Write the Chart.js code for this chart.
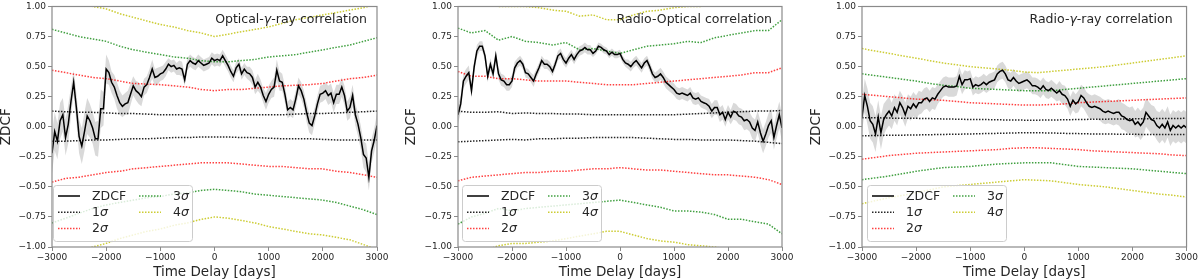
<!DOCTYPE html>
<html>
<head>
<meta charset="utf-8">
<script src="https://cdn.jsdelivr.net/npm/chart.js@4.4.0/dist/chart.umd.min.js"></script>
<style>
  html, body { margin: 0; padding: 0; background: #fff; }
  #wrap { position: relative; width: 1200px; height: 280px; }
  canvas { position: absolute; top: 0; }
</style>
</head>
<body>
<div id="wrap">
  <canvas id="c1" width="400" height="280" style="left:0px"></canvas>
  <canvas id="c2" width="400" height="280" style="left:400px"></canvas>
  <canvas id="c3" width="400" height="280" style="left:800px"></canvas>
</div>
<script>
// time delays (days) of the ZDCF bins
const lags = [
  -3000,-2950,-2900,-2850,-2800,-2750,-2700,-2650,-2600,-2550,
  -2500,-2450,-2400,-2350,-2300,-2250,-2200,-2150,-2100,-2050,
  -2000,-1950,-1900,-1850,-1800,-1750,-1700,-1650,-1600,-1550,
  -1500,-1450,-1400,-1350,-1300,-1250,-1200,-1150,-1100,-1050,
  -1000,-950,-900,-850,-800,-750,-700,-650,-600,-550,
  -500,-450,-400,-350,-300,-250,-200,-150,-100,-50,
  0,50,100,150,200,250,300,350,400,450,
  500,550,600,650,700,750,800,850,900,950,
  1000,1050,1100,1150,1200,1250,1300,1350,1400,1450,
  1500,1550,1600,1650,1700,1750,1800,1850,1900,1950,
  2000,2050,2100,2150,2200,2250,2300,2350,2400,2450,
  2500,2550,2600,2650,2700,2750,2800,2850,2900,2950,
  3000
];
// time delays of the significance curves
const sigmaLags = [-3000,-2750,-2500,-2250,-2000,-1750,-1500,-1250,-1000,-750,-500,-250,
  0,250,500,750,1000,1250,1500,1750,2000,2250,2500,2750,3000];

const xTicks = [-3000,-2000,-1000,0,1000,2000,3000];
const yTicks = [-1,-0.75,-0.5,-0.25,0,0.25,0.5,0.75,1];

// ---- Optical - gamma-ray ----
const ogZdcf = [
  -0.22,-0.04,-0.12,0.05,0.10,-0.09,0.02,0.21,0.37,0.16,
  -0.08,-0.16,-0.04,0.09,0.05,-0.01,-0.10,-0.10,0.15,0.15,
  0.48,0.45,0.37,0.33,0.26,0.20,0.17,0.19,0.20,0.27,
  0.34,0.30,0.28,0.25,0.33,0.35,0.41,0.48,0.41,0.42,
  0.44,0.45,0.48,0.52,0.50,0.51,0.48,0.49,0.48,0.39,
  0.52,0.55,0.53,0.52,0.55,0.53,0.51,0.52,0.53,0.57,
  0.55,0.56,0.55,0.59,0.55,0.51,0.46,0.42,0.49,0.52,
  0.44,0.48,0.45,0.44,0.41,0.33,0.37,0.33,0.26,0.21,
  0.27,0.31,0.33,0.47,0.38,0.37,0.27,0.14,0.16,0.14,
  0.23,0.34,0.30,0.23,0.12,0.03,0.01,0.09,0.19,0.27,
  0.28,0.30,0.26,0.28,0.20,0.27,0.27,0.33,0.26,0.13,
  0.16,0.26,0.10,0.02,-0.09,-0.23,-0.26,-0.42,-0.20,-0.11,
  0.01
];
const ogErr = [
  0.17,0.16,0.15,0.15,0.14,0.15,0.16,0.12,0.10,0.12,
  0.14,0.15,0.16,0.15,0.14,0.13,0.14,0.15,0.16,0.14,
  0.12,0.10,0.09,0.10,0.11,0.10,0.09,0.09,0.10,0.09,
  0.08,0.08,0.09,0.08,0.07,0.07,0.07,0.08,0.07,0.07,
  0.06,0.06,0.06,0.05,0.05,0.05,0.05,0.06,0.06,0.05,
  0.05,0.05,0.05,0.05,0.05,0.05,0.05,0.05,0.05,0.05,
  0.05,0.05,0.05,0.05,0.05,0.05,0.05,0.05,0.05,0.05,
  0.05,0.05,0.05,0.06,0.06,0.06,0.07,0.06,0.06,0.07,
  0.07,0.07,0.08,0.09,0.08,0.07,0.07,0.07,0.07,0.07,
  0.07,0.07,0.07,0.07,0.08,0.08,0.08,0.07,0.07,0.07,
  0.07,0.07,0.08,0.08,0.08,0.08,0.08,0.08,0.08,0.08,
  0.09,0.09,0.09,0.10,0.10,0.11,0.12,0.11,0.10,0.10,
  0.10
];
const og1Up = [0.13,0.125,0.12,0.12,0.115,0.11,0.11,0.105,0.10,0.10,0.10,0.10,0.10,0.10,0.10,0.10,0.10,0.10,0.105,0.11,0.11,0.115,0.12,0.125,0.13];
const og1Lo = [-0.12,-0.12,-0.115,-0.11,-0.11,-0.105,-0.10,-0.10,-0.095,-0.09,-0.09,-0.085,-0.085,-0.085,-0.09,-0.09,-0.095,-0.10,-0.10,-0.10,-0.105,-0.11,-0.11,-0.11,-0.11];
const og2Up = [0.47,0.45,0.43,0.41,0.40,0.38,0.36,0.355,0.35,0.34,0.33,0.31,0.30,0.31,0.31,0.32,0.33,0.34,0.345,0.35,0.36,0.38,0.40,0.41,0.43];
const og2Lo = [-0.46,-0.43,-0.42,-0.40,-0.38,-0.37,-0.35,-0.34,-0.33,-0.32,-0.31,-0.30,-0.30,-0.30,-0.31,-0.32,-0.33,-0.33,-0.34,-0.35,-0.35,-0.37,-0.38,-0.40,-0.42];
const og3Up = [0.81,0.78,0.75,0.73,0.71,0.67,0.64,0.62,0.60,0.58,0.57,0.55,0.54,0.54,0.55,0.56,0.58,0.59,0.60,0.62,0.64,0.66,0.68,0.71,0.74];
const og3Lo = [-0.80,-0.76,-0.72,-0.68,-0.65,-0.63,-0.61,-0.59,-0.58,-0.56,-0.55,-0.53,-0.52,-0.53,-0.54,-0.56,-0.57,-0.58,-0.59,-0.60,-0.61,-0.63,-0.66,-0.69,-0.73];
const og4Up = [1.18,1.10,1.03,1.00,0.98,0.94,0.91,0.88,0.85,0.83,0.80,0.78,0.75,0.77,0.79,0.81,0.83,0.86,0.89,0.91,0.93,0.95,0.97,0.99,1.02];
const og4Lo = [-1.18,-1.10,-1.04,-1.00,-0.97,-0.93,-0.90,-0.87,-0.85,-0.82,-0.80,-0.77,-0.75,-0.76,-0.78,-0.80,-0.83,-0.85,-0.87,-0.89,-0.90,-0.92,-0.94,-0.98,-1.02];

// ---- Radio - optical ----
const roZdcf = [
  0.10,0.19,0.38,0.42,0.45,0.30,0.50,0.63,0.67,0.67,
  0.59,0.42,0.52,0.44,0.59,0.44,0.39,0.38,0.35,0.35,
  0.38,0.49,0.53,0.55,0.52,0.45,0.44,0.41,0.38,0.44,
  0.49,0.55,0.52,0.52,0.50,0.46,0.52,0.59,0.61,0.56,
  0.53,0.57,0.60,0.56,0.60,0.63,0.64,0.66,0.64,0.64,
  0.61,0.63,0.67,0.66,0.64,0.63,0.60,0.62,0.60,0.60,
  0.61,0.56,0.53,0.52,0.50,0.53,0.55,0.52,0.49,0.53,
  0.55,0.50,0.44,0.41,0.42,0.44,0.41,0.37,0.35,0.33,
  0.31,0.28,0.27,0.28,0.27,0.26,0.28,0.24,0.23,0.24,
  0.21,0.20,0.19,0.17,0.13,0.16,0.16,0.10,0.12,0.06,
  0.12,0.08,0.13,0.12,0.09,0.08,0.05,0.06,0.04,-0.01,
  -0.03,0.04,-0.05,-0.12,-0.06,0.01,0.05,-0.09,0.01,0.10,
  -0.01
];
const roErr = [
  0.08,0.07,0.06,0.06,0.06,0.06,0.05,0.05,0.04,0.04,
  0.04,0.05,0.05,0.05,0.05,0.05,0.05,0.05,0.05,0.05,
  0.05,0.05,0.04,0.04,0.04,0.04,0.04,0.04,0.05,0.04,
  0.04,0.04,0.04,0.04,0.04,0.04,0.04,0.04,0.04,0.04,
  0.04,0.04,0.04,0.04,0.04,0.04,0.04,0.04,0.04,0.04,
  0.03,0.03,0.03,0.03,0.03,0.03,0.03,0.03,0.03,0.03,
  0.03,0.03,0.03,0.04,0.04,0.04,0.04,0.04,0.04,0.04,
  0.04,0.04,0.04,0.04,0.05,0.05,0.05,0.05,0.05,0.05,
  0.05,0.05,0.05,0.05,0.05,0.05,0.05,0.05,0.05,0.05,
  0.05,0.05,0.05,0.06,0.06,0.06,0.06,0.06,0.06,0.06,
  0.06,0.06,0.07,0.07,0.07,0.07,0.08,0.08,0.08,0.09,
  0.09,0.09,0.10,0.10,0.10,0.10,0.10,0.10,0.11,0.11,
  0.11
];
const ro1Up = [0.13,0.12,0.12,0.125,0.11,0.115,0.11,0.11,0.105,0.105,0.10,0.10,0.10,0.10,0.10,0.10,0.10,0.105,0.11,0.115,0.12,0.125,0.13,0.13,0.135];
const ro1Lo = [-0.125,-0.12,-0.115,-0.11,-0.105,-0.11,-0.10,-0.10,-0.095,-0.095,-0.09,-0.09,-0.09,-0.09,-0.095,-0.10,-0.105,-0.105,-0.11,-0.11,-0.11,-0.115,-0.12,-0.13,-0.14];
const ro2Up = [0.46,0.42,0.42,0.40,0.40,0.39,0.38,0.38,0.38,0.37,0.36,0.35,0.35,0.35,0.36,0.37,0.38,0.39,0.40,0.41,0.42,0.43,0.45,0.45,0.49];
const ro2Lo = [-0.45,-0.42,-0.41,-0.40,-0.39,-0.38,-0.38,-0.37,-0.37,-0.36,-0.35,-0.35,-0.34,-0.35,-0.36,-0.36,-0.37,-0.38,-0.39,-0.40,-0.40,-0.41,-0.42,-0.44,-0.48];
const ro3Up = [0.82,0.78,0.80,0.72,0.75,0.71,0.70,0.68,0.70,0.64,0.65,0.63,0.61,0.64,0.67,0.68,0.69,0.71,0.70,0.74,0.76,0.78,0.80,0.80,0.89];
const ro3Lo = [-0.81,-0.75,-0.72,-0.68,-0.70,-0.68,-0.67,-0.66,-0.65,-0.64,-0.63,-0.62,-0.61,-0.63,-0.65,-0.67,-0.70,-0.70,-0.71,-0.73,-0.77,-0.77,-0.79,-0.81,-0.89];
const ro4Up = [1.15,1.08,1.03,1.00,1.00,1.00,0.99,0.97,0.96,0.92,0.93,0.89,0.89,0.93,0.96,0.97,0.99,1.00,1.00,1.02,1.04,1.06,1.08,1.10,1.12];
const ro4Lo = [-1.15,-1.08,-1.03,-0.99,-0.97,-0.97,-0.96,-0.95,-0.93,-0.91,-0.89,-0.87,-0.87,-0.90,-0.93,-0.95,-0.96,-0.98,-0.99,-1.00,-1.02,-1.04,-1.06,-1.08,-1.10];

// ---- Radio - gamma-ray ----
const rgZdcf = [
  0.08,0.26,0.17,0.05,0.02,-0.06,0.08,-0.05,0.06,0.10,
  0.13,0.09,0.16,0.12,0.20,0.16,0.10,0.17,0.15,0.19,
  0.16,0.20,0.20,0.23,0.24,0.21,0.24,0.23,0.27,0.30,
  0.33,0.34,0.33,0.33,0.33,0.34,0.42,0.35,0.39,0.39,
  0.40,0.33,0.35,0.34,0.35,0.37,0.35,0.37,0.38,0.39,
  0.44,0.46,0.47,0.44,0.39,0.38,0.41,0.38,0.36,0.37,
  0.38,0.39,0.37,0.34,0.34,0.33,0.31,0.34,0.31,0.30,
  0.32,0.30,0.28,0.30,0.27,0.26,0.23,0.17,0.22,0.19,
  0.21,0.26,0.24,0.20,0.17,0.16,0.17,0.16,0.15,0.13,
  0.12,0.13,0.12,0.11,0.12,0.12,0.09,0.08,0.06,0.05,
  0.06,0.02,0.04,0.01,0.04,0.12,0.09,0.06,0.05,0.01,
  -0.01,0.02,-0.01,0.04,-0.03,0.01,-0.01,0.01,-0.01,0.01,
  -0.01
];
const rgErr = [
  0.12,0.14,0.15,0.15,0.15,0.15,0.14,0.14,0.13,0.12,
  0.12,0.11,0.11,0.11,0.10,0.10,0.10,0.10,0.10,0.10,
  0.10,0.10,0.09,0.09,0.09,0.09,0.09,0.09,0.08,0.08,
  0.08,0.08,0.08,0.08,0.08,0.08,0.08,0.08,0.08,0.07,
  0.07,0.07,0.07,0.07,0.07,0.07,0.07,0.07,0.07,0.07,
  0.07,0.07,0.07,0.07,0.07,0.07,0.07,0.07,0.07,0.07,
  0.07,0.07,0.07,0.07,0.07,0.07,0.07,0.07,0.07,0.07,
  0.07,0.07,0.07,0.08,0.08,0.08,0.08,0.08,0.08,0.08,
  0.09,0.09,0.09,0.09,0.10,0.10,0.10,0.10,0.10,0.10,
  0.10,0.10,0.10,0.10,0.10,0.11,0.11,0.11,0.11,0.11,
  0.11,0.11,0.12,0.12,0.12,0.12,0.12,0.12,0.12,0.12,
  0.13,0.13,0.13,0.13,0.13,0.13,0.13,0.13,0.13,0.13,
  0.13
];
const rg1Up = [0.075,0.075,0.072,0.07,0.07,0.068,0.065,0.063,0.06,0.06,0.058,0.056,0.055,0.055,0.056,0.058,0.06,0.062,0.063,0.065,0.066,0.067,0.068,0.069,0.07];
const rg1Lo = [-0.075,-0.073,-0.071,-0.07,-0.068,-0.066,-0.064,-0.062,-0.06,-0.057,-0.055,-0.052,-0.05,-0.05,-0.052,-0.055,-0.057,-0.06,-0.06,-0.062,-0.063,-0.064,-0.065,-0.065,-0.065];
const rg2Up = [0.27,0.26,0.25,0.24,0.23,0.225,0.22,0.21,0.20,0.195,0.19,0.185,0.18,0.18,0.185,0.19,0.20,0.205,0.21,0.215,0.22,0.225,0.23,0.235,0.24];
const rg2Lo = [-0.27,-0.255,-0.24,-0.23,-0.22,-0.215,-0.21,-0.205,-0.20,-0.195,-0.19,-0.18,-0.175,-0.175,-0.18,-0.185,-0.19,-0.20,-0.205,-0.21,-0.215,-0.22,-0.225,-0.235,-0.24];
const rg3Up = [0.44,0.425,0.41,0.395,0.38,0.36,0.345,0.335,0.32,0.315,0.31,0.305,0.30,0.30,0.30,0.31,0.32,0.33,0.34,0.35,0.36,0.37,0.38,0.39,0.40];
const rg3Lo = [-0.44,-0.425,-0.41,-0.39,-0.37,-0.355,-0.34,-0.335,-0.33,-0.32,-0.31,-0.305,-0.30,-0.30,-0.30,-0.315,-0.33,-0.335,-0.34,-0.345,-0.35,-0.36,-0.37,-0.38,-0.39];
const rg4Up = [0.65,0.63,0.61,0.59,0.57,0.55,0.53,0.515,0.50,0.49,0.48,0.47,0.455,0.45,0.46,0.47,0.48,0.49,0.50,0.515,0.53,0.545,0.56,0.575,0.59];
const rg4Lo = [-0.64,-0.615,-0.59,-0.57,-0.55,-0.525,-0.50,-0.49,-0.48,-0.47,-0.46,-0.45,-0.44,-0.445,-0.45,-0.465,-0.48,-0.49,-0.50,-0.515,-0.53,-0.545,-0.56,-0.57,-0.585];

const FONT = "'DejaVu Sans', sans-serif";
const TEXT = '#262626';
const FRAME = '#8a8a8a';
const BAND = 'rgba(128,128,128,0.3)';
const sigmaColors = ['rgba(0,0,0,0.85)', 'rgba(255,0,0,0.75)', 'rgba(0,128,0,0.75)', 'rgba(191,191,0,0.8)'];
const DOTS = [1.5, 1.5];

const minus = s => s.replace('-', '\u2212');

function pts(xs, ys) {
  return ys.map((y, i) => ({ x: xs[i], y: y }));
}

// frame, annotation and legend drawn inside the plot area
const panelDeco = {
  id: 'panelDeco',
  afterDraw(chart, args, o) {
    const { ctx, chartArea: a } = chart;
    ctx.save();
    ctx.strokeStyle = FRAME;
    ctx.lineWidth = 1.2;
    ctx.setLineDash([]);
    ctx.strokeRect(a.left, a.top, a.right - a.left, a.bottom - a.top);

    // annotation, right aligned, with italic greek letters
    ctx.fillStyle = TEXT;
    ctx.textBaseline = 'middle';
    let total = 0;
    const parts = o.note.map(p => {
      const f = (p[1] ? 'italic ' : '') + '12.5px ' + FONT;
      ctx.font = f;
      const w = ctx.measureText(p[0]).width;
      total += w;
      return { t: p[0], f: f, w: w };
    });
    let x = a.right - o.noteRight - total;
    parts.forEach(p => { ctx.font = p.f; ctx.fillText(p.t, x, a.top + 13); x += p.w; });

    // legend box
    const bx = a.left + o.legLeft, by = a.bottom - 62, bw = 139, bh = 56;
    ctx.beginPath();
    ctx.roundRect(bx + 0.5, by + 0.5, bw, bh, 3);
    ctx.fillStyle = 'rgba(255,255,255,0.8)';
    ctx.fill();
    ctx.strokeStyle = '#cccccc';
    ctx.lineWidth = 1;
    ctx.stroke();

    const entries = [
      { lab: [['ZDCF', false]], color: '#000', dash: [], col: 0, row: 0 },
      { lab: [['1', false], ['\u03c3', true]], color: sigmaColors[0], dash: DOTS, col: 0, row: 1 },
      { lab: [['2', false], ['\u03c3', true]], color: sigmaColors[1], dash: DOTS, col: 0, row: 2 },
      { lab: [['3', false], ['\u03c3', true]], color: sigmaColors[2], dash: DOTS, col: 1, row: 0 },
      { lab: [['4', false], ['\u03c3', true]], color: sigmaColors[3], dash: DOTS, col: 1, row: 1 }
    ];
    entries.forEach(e => {
      const hx = bx + (e.col ? 86 : 5);
      const ty = by + 11 + e.row * 16.3;
      ctx.beginPath();
      ctx.setLineDash(e.dash);
      ctx.strokeStyle = e.color;
      ctx.lineWidth = 1.5;
      ctx.moveTo(hx, ty);
      ctx.lineTo(hx + 22, ty);
      ctx.stroke();
      ctx.setLineDash([]);
      let tx = hx + 34;
      ctx.fillStyle = TEXT;
      e.lab.forEach(p => {
        ctx.font = (p[1] ? 'italic ' : '') + '12.5px ' + FONT;
        ctx.fillText(p[0], tx, ty + 0.5);
        tx += ctx.measureText(p[0]).width;
      });
    });
    ctx.restore();
  }
};

function sigmaSet(ys, color) {
  return {
    data: pts(sigmaLags, ys), borderColor: color, borderWidth: 1.5, borderDash: DOTS,
    pointRadius: 0, fill: false, tension: 0
  };
}

function makePanel(id, p) {
  const upper = p.zdcf.map((v, i) => v + p.err[i]);
  const lower = p.zdcf.map((v, i) => v - p.err[i]);
  const datasets = [
    { data: pts(lags, p.zdcf), borderColor: '#000', borderWidth: 1.5, pointRadius: 0, fill: false, tension: 0 },
    sigmaSet(p.s1[0], sigmaColors[0]), sigmaSet(p.s1[1], sigmaColors[0]),
    sigmaSet(p.s2[0], sigmaColors[1]), sigmaSet(p.s2[1], sigmaColors[1]),
    sigmaSet(p.s3[0], sigmaColors[2]), sigmaSet(p.s3[1], sigmaColors[2]),
    sigmaSet(p.s4[0], sigmaColors[3]), sigmaSet(p.s4[1], sigmaColors[3]),
    { data: pts(lags, upper), borderColor: 'rgba(0,0,0,0)', borderWidth: 0, pointRadius: 0, fill: '+1', backgroundColor: BAND },
    { data: pts(lags, lower), borderColor: 'rgba(0,0,0,0)', borderWidth: 0, pointRadius: 0, fill: false }
  ];
  new Chart(document.getElementById(id), {
    type: 'line',
    data: { datasets: datasets },
    plugins: [panelDeco],
    options: {
      responsive: false,
      animation: false,
      events: [],
      layout: { padding: { left: 0, right: p.padRight, top: 5, bottom: 0 } },
      plugins: {
        legend: { display: false },
        tooltip: { enabled: false },
        panelDeco: { note: p.note, noteRight: p.noteRight, legLeft: p.legLeft }
      },
      scales: {
        x: {
          type: 'linear', min: -3000, max: 3000,
          afterFit: s => { s.height = 33; },
          afterBuildTicks: s => { s.ticks = xTicks.map(v => ({ value: v })); },
          ticks: { autoSkip: false, maxRotation: 0, padding: 2, color: TEXT,
            font: { family: FONT, size: 9, lineHeight: 1 },
            callback: v => minus(String(v)) },
          grid: { drawOnChartArea: false, drawTicks: true, tickLength: 4, color: FRAME },
          border: { display: false },
          title: { display: true, text: 'Time Delay [days]', color: TEXT,
            font: { family: FONT, size: 13.5, lineHeight: 1 }, padding: { top: 0, bottom: 1 } }
        },
        y: {
          type: 'linear', min: -1, max: 1,
          afterFit: s => { s.width = p.yWidth; },
          afterBuildTicks: s => { s.ticks = yTicks.map(v => ({ value: v })); },
          ticks: { autoSkip: false, padding: 2, color: TEXT,
            font: { family: FONT, size: 9, lineHeight: 1 },
            callback: v => minus((Math.abs(v) < 1e-9 ? 0 : v).toFixed(2)) },
          grid: { drawOnChartArea: false, drawTicks: true, tickLength: 4, color: FRAME },
          border: { display: false },
          title: { display: true, text: 'ZDCF', color: TEXT,
            font: { family: FONT, size: 13.5, lineHeight: 1 }, padding: { top: p.yTitlePad, bottom: 0 } }
        }
      }
    }
  });
}

makePanel('c1', {
  zdcf: ogZdcf, err: ogErr,
  s1: [og1Up, og1Lo], s2: [og2Up, og2Lo], s3: [og3Up, og3Lo], s4: [og4Up, og4Lo],
  note: [['Optical-', false], ['\u03b3', true], ['-ray correlation', false]],
  yWidth: 52, padRight: 23, yTitlePad: 0, noteRight: 10, legLeft: 1
});
makePanel('c2', {
  zdcf: roZdcf, err: roErr,
  s1: [ro1Up, ro1Lo], s2: [ro2Up, ro2Lo], s3: [ro3Up, ro3Lo], s4: [ro4Up, ro4Lo],
  note: [['Radio-Optical correlation', false]],
  yWidth: 58, padRight: 18, yTitlePad: 5, noteRight: 10, legLeft: 4
});
makePanel('c3', {
  zdcf: rgZdcf, err: rgErr,
  s1: [rg1Up, rg1Lo], s2: [rg2Up, rg2Lo], s3: [rg3Up, rg3Lo], s4: [rg4Up, rg4Lo],
  note: [['Radio-', false], ['\u03b3', true], ['-ray correlation', false]],
  yWidth: 62, padRight: 12, yTitlePad: 10, noteRight: 14, legLeft: 5
});
</script>
</body>
</html>
